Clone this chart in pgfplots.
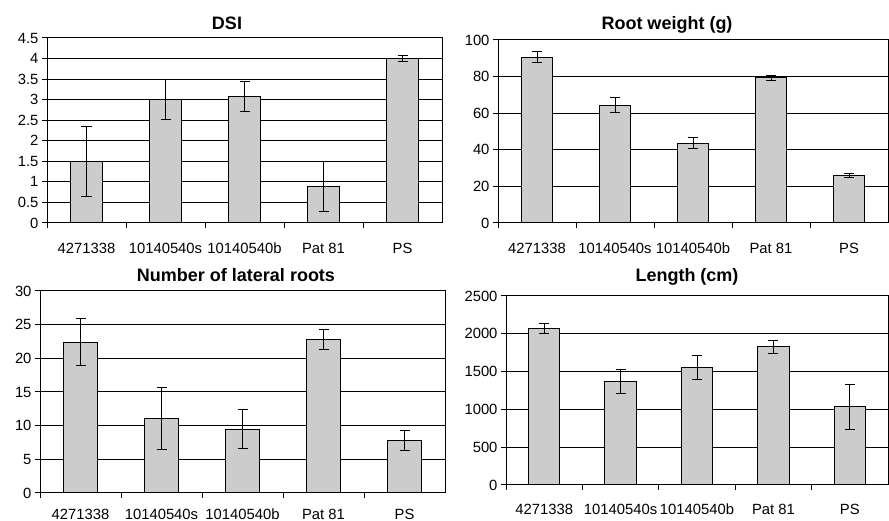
\documentclass[border=0pt]{standalone}
\usepackage{fontspec}
\setmainfont{Liberation Sans}
\usepackage{pgfplots}
\pgfplotsset{compat=1.18}

\definecolor{barfill}{HTML}{CCCCCC}

\pgfplotsset{
  panel/.style={
    scale only axis,
    anchor=south west,
    xmin=-0.5, xmax=4.5, ymin=0,
    xtick={0,...,4},
    xticklabels={4271338,10140540s,10140540b,Pat 81,PS},
    major x tick style={draw=none},
    minor xtick={-0.5,0.5,1.5,2.5,3.5},
    minor tick length=5pt,
    major tick length=5pt,
    tick align=outside,
    xtick pos=bottom, ytick pos=left,
    ymajorgrids, grid style={black, line width=1pt},
    axis line style={black, line width=1pt},
    every tick/.style={black, line width=1pt},
    ybar, bar width=0.41,
    tick label style={font=\fontsize{14.8}{17}\selectfont},
    xticklabel style={text height=10.8pt, text depth=0pt},
    /pgf/number format/assume math mode=true,
    /pgf/number format/1000 sep={},
    scaled ticks=false,
  },
  bars/.style={
    fill=barfill, draw=black, line width=1pt,
    error bars/.cd, y dir=both, y explicit,
    error bar style={black, line width=1pt},
    error mark options={rotate=90, mark size=5pt, black, line width=1pt},
  },
}

\begin{document}
\begin{tikzpicture}
\path[use as bounding box] (0,0) rectangle (889pt,521pt);

% DSI
\begin{axis}[panel, at={(47pt,298pt)}, width=395pt, height=185pt,
  ymax=4.5, ytick={0,0.5,...,4.5}, xticklabel style={yshift=-11pt}]
  \addplot[bars] coordinates {
    (0,1.50) +- (0,0.85)
    (1,3.00) +- (0,0.49)
    (2,3.08) +- (0,0.36)
    (3,0.89) +- (0,0.60)
    (4,4.00) +- (0,0.08)
  };
\end{axis}

% Root weight
\begin{axis}[panel, at={(498pt,298pt)}, width=390pt, height=183pt,
  ymax=100, ytick={0,20,...,100}, xticklabel style={yshift=-11pt}]
  \addplot[bars] coordinates {
    (0,90.5) +- (0,3.0)
    (1,64.4) +- (0,4.0)
    (2,43.6) +- (0,3.0)
    (3,79.3) +- (0,1.4)
    (4,26.0) +- (0,1.3)
  };
\end{axis}

% Number of lateral roots
\begin{axis}[panel, at={(40pt,28pt)}, width=405pt, height=202pt,
  ymax=30, ytick={0,5,...,30}, xticklabel style={yshift=-7pt}]
  \addplot[bars] coordinates {
    (0,22.4) +- (0,3.5)
    (1,11.0) +- (0,4.6)
    (2,9.5) +- (0,2.9)
    (3,22.8) +- (0,1.5)
    (4,7.8) +- (0,1.5)
  };
\end{axis}

% Length
\begin{axis}[panel, at={(506pt,36pt)}, width=382pt, height=189pt,
  ymax=2500, ytick={0,500,...,2500}, xticklabel style={yshift=-10pt}]
  \addplot[bars] coordinates {
    (0,2068) +- (0,62)
    (1,1367) +- (0,155)
    (2,1552) +- (0,160)
    (3,1830) +- (0,85)
    (4,1032) +- (0,295)
  };
\end{axis}

\begin{scope}[every node/.style={font=\fontsize{18}{20}\selectfont\bfseries, anchor=base, inner sep=0pt}]
  \node at (227pt,491pt) {DSI};
  \node at (667pt,491pt) {Root weight (g)};
  \node at (236pt,239pt) {Number of lateral roots};
  \node at (687pt,239pt) {Length (cm)};
\end{scope}
\end{tikzpicture}
\end{document}
